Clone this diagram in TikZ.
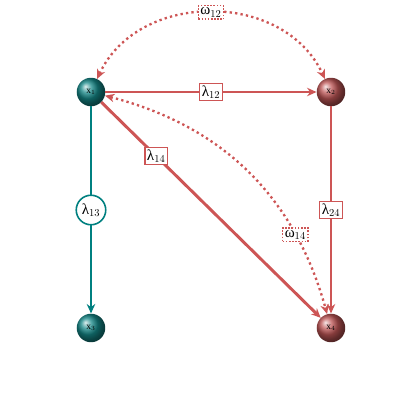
\documentclass[tikz,border=0pt]{standalone}
\usepackage{fontspec}
\setmainfont{Liberation Serif}
\usetikzlibrary{arrows.meta,shadings}
\definecolor{edgered}{RGB}{205,85,85}
\definecolor{ballred}{RGB}{190,85,85}
\definecolor{edgeteal}{RGB}{0,128,128}
\definecolor{ballteal}{RGB}{20,135,135}

\begin{document}
\begin{tikzpicture}[
    tealball/.style={circle,shading=ball,ball color=ballteal,minimum size=0.95cm,inner sep=0pt,text=black,font=\small},
    redball/.style={circle,shading=ball,ball color=ballred,minimum size=0.95cm,inner sep=0pt,text=black,font=\small},
    redarc/.style={draw=edgered,line width=2.8pt,-{Stealth[length=9pt,width=8pt]}},
    tealarc/.style={draw=edgeteal,line width=2.8pt,-{Stealth[length=9pt,width=8pt]}},
    corrarc/.style={draw=edgered,line width=2.2pt,dash pattern=on 2.2pt off 3pt,{Stealth[length=9pt,width=8pt]}-{Stealth[length=9pt,width=8pt]}},
    redlbl/.style={draw=edgered,fill=white,line width=1.5pt,inner sep=2pt,text=black,font=\Large},
    corrlbl/.style={draw=edgered,fill=white,line width=1.5pt,dash pattern=on 1.5pt off 1.5pt,inner sep=2pt,text=black,font=\Large},
    teallbl/.style={circle,draw=edgeteal,fill=white,line width=1.5pt,inner sep=1pt,minimum size=28pt,text=black,font=\Large}
  ]
  \useasboundingbox (0,0) rectangle (14,14);

  \node[tealball] (x1) at (3.033,10.933) {x$_1$};
  \node[redball]  (x2) at (11.033,10.933) {x$_2$};
  \node[tealball] (x3) at (3.033,3.067) {x$_3$};
  \node[redball]  (x4) at (11.033,3.067) {x$_4$};

  % directed effects
  \draw[redarc] (x1) -- node[redlbl] {λ$_{12}$} (x2);
  \draw[tealarc] (x1) -- node[teallbl] {λ$_{13}$} (x3);
  \draw[redarc] (x1) -- node[redlbl,pos=0.25] {λ$_{14}$} (x4);
  \draw[redarc] (x2) -- node[redlbl] {λ$_{24}$} (x4);

  % residual covariances
  \draw[corrarc] (x1) to[out=65,in=115,looseness=1.1] node[corrlbl] {ω$_{12}$} (x2);
  \draw[corrarc] (x1) to[bend left=30] node[corrlbl,pos=0.75] {ω$_{14}$} (x4);
\end{tikzpicture}
\end{document}
